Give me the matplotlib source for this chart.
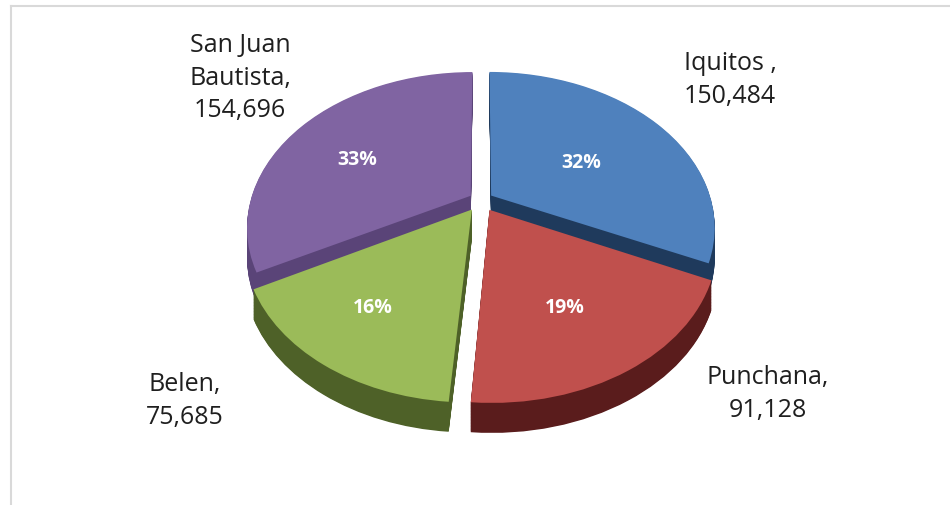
import numpy as np
import matplotlib
matplotlib.use('Agg')
import matplotlib.pyplot as plt
from matplotlib.lines import Line2D
from matplotlib.transforms import Transform

# poblacion por distrito
distritos = ['Iquitos ,', 'Punchana,', 'Belen,', 'San Juan\nBautista,']
poblacion = [150484, 91128, 75685, 154696]

colores = ['#4F81BD', '#C0504D', '#9BBB59', '#8064A2']
colores_lado = ['#1F3A5C', '#5A1C1C', '#4E6128', '#5A4478']

separacion = [0.055, 0.075, 0.075, 0.055]

# geometria en pixeles (y hacia arriba)
W, H = 950, 506
cx, cy = 481, H - 201
rx, ry = 220, 150
inclinacion = 0.2     # perspectiva: el fondo se ve mas chico
profundidad = 30
capas = 40

# posiciones de las etiquetas en pixeles (y hacia abajo)
pos_pct = [(581, 163), (565, 308), (373, 308), (357, 160)]
pos_nombre = [(730, 80), (768, 394), (185, 401), (240, 78)]


class Perspectiva(Transform):
    """Lleva el circulo unitario del pastel a una elipse vista en perspectiva."""
    input_dims = 2
    output_dims = 2
    is_separable = False

    def __init__(self, dy=0.0):
        super().__init__()
        self.dy = dy

    def transform_non_affine(self, xy):
        xy = np.asarray(xy, dtype=float)
        u, v = xy[:, 0], xy[:, 1]
        w = 1 + inclinacion * v
        return np.column_stack([cx + rx * u / w, cy + ry * v / w + self.dy])


fig = plt.figure(figsize=(W / 100, H / 100), dpi=100)
ax = fig.add_axes([0, 0, 1, 1])

# paredes laterales: el mismo pastel apilado hacia abajo
for k in range(capas):
    dy = -profundidad * (1 - k / capas)
    cuñas, _ = ax.pie(poblacion, explode=separacion, startangle=90,
                      counterclock=False, colors=colores_lado,
                      wedgeprops=dict(linewidth=0))
    for c in cuñas:
        c.set_transform(Perspectiva(dy) + ax.transData)

# cara superior
cuñas, textos, pcts = ax.pie(poblacion, explode=separacion, startangle=90,
                             counterclock=False, colors=colores,
                             autopct='%1.0f%%', wedgeprops=dict(linewidth=0))
for c in cuñas:
    c.set_transform(Perspectiva() + ax.transData)

for t, (x, y) in zip(pcts, pos_pct):
    t.set_position((x, H - y))
    t.set_color('white')
    t.set_fontweight('bold')
    t.set_fontsize(14)
    t.set_fontfamily('Open Sans')
    t.set_ha('center')
    t.set_va('center')

ax.set_aspect('auto')
ax.set_xlim(0, W)
ax.set_ylim(0, H)
ax.axis('off')

for nombre, valor, (x, y) in zip(distritos, poblacion, pos_nombre):
    ax.text(x, H - y, f'{nombre}\n{valor:,}', ha='center', va='center',
            fontsize=18, family='Open Sans', color='#1F1F1F', linespacing=1.4)

# borde del area del grafico
fig.add_artist(Line2D([10.5 / W, 1], [1 - 7 / H, 1 - 7 / H],
                      color='#D9D9D9', lw=1.5))
fig.add_artist(Line2D([10.5 / W, 10.5 / W], [0, 1 - 7 / H],
                      color='#D9D9D9', lw=1.5))

fig.savefig('out.png', dpi=100, facecolor='white')
